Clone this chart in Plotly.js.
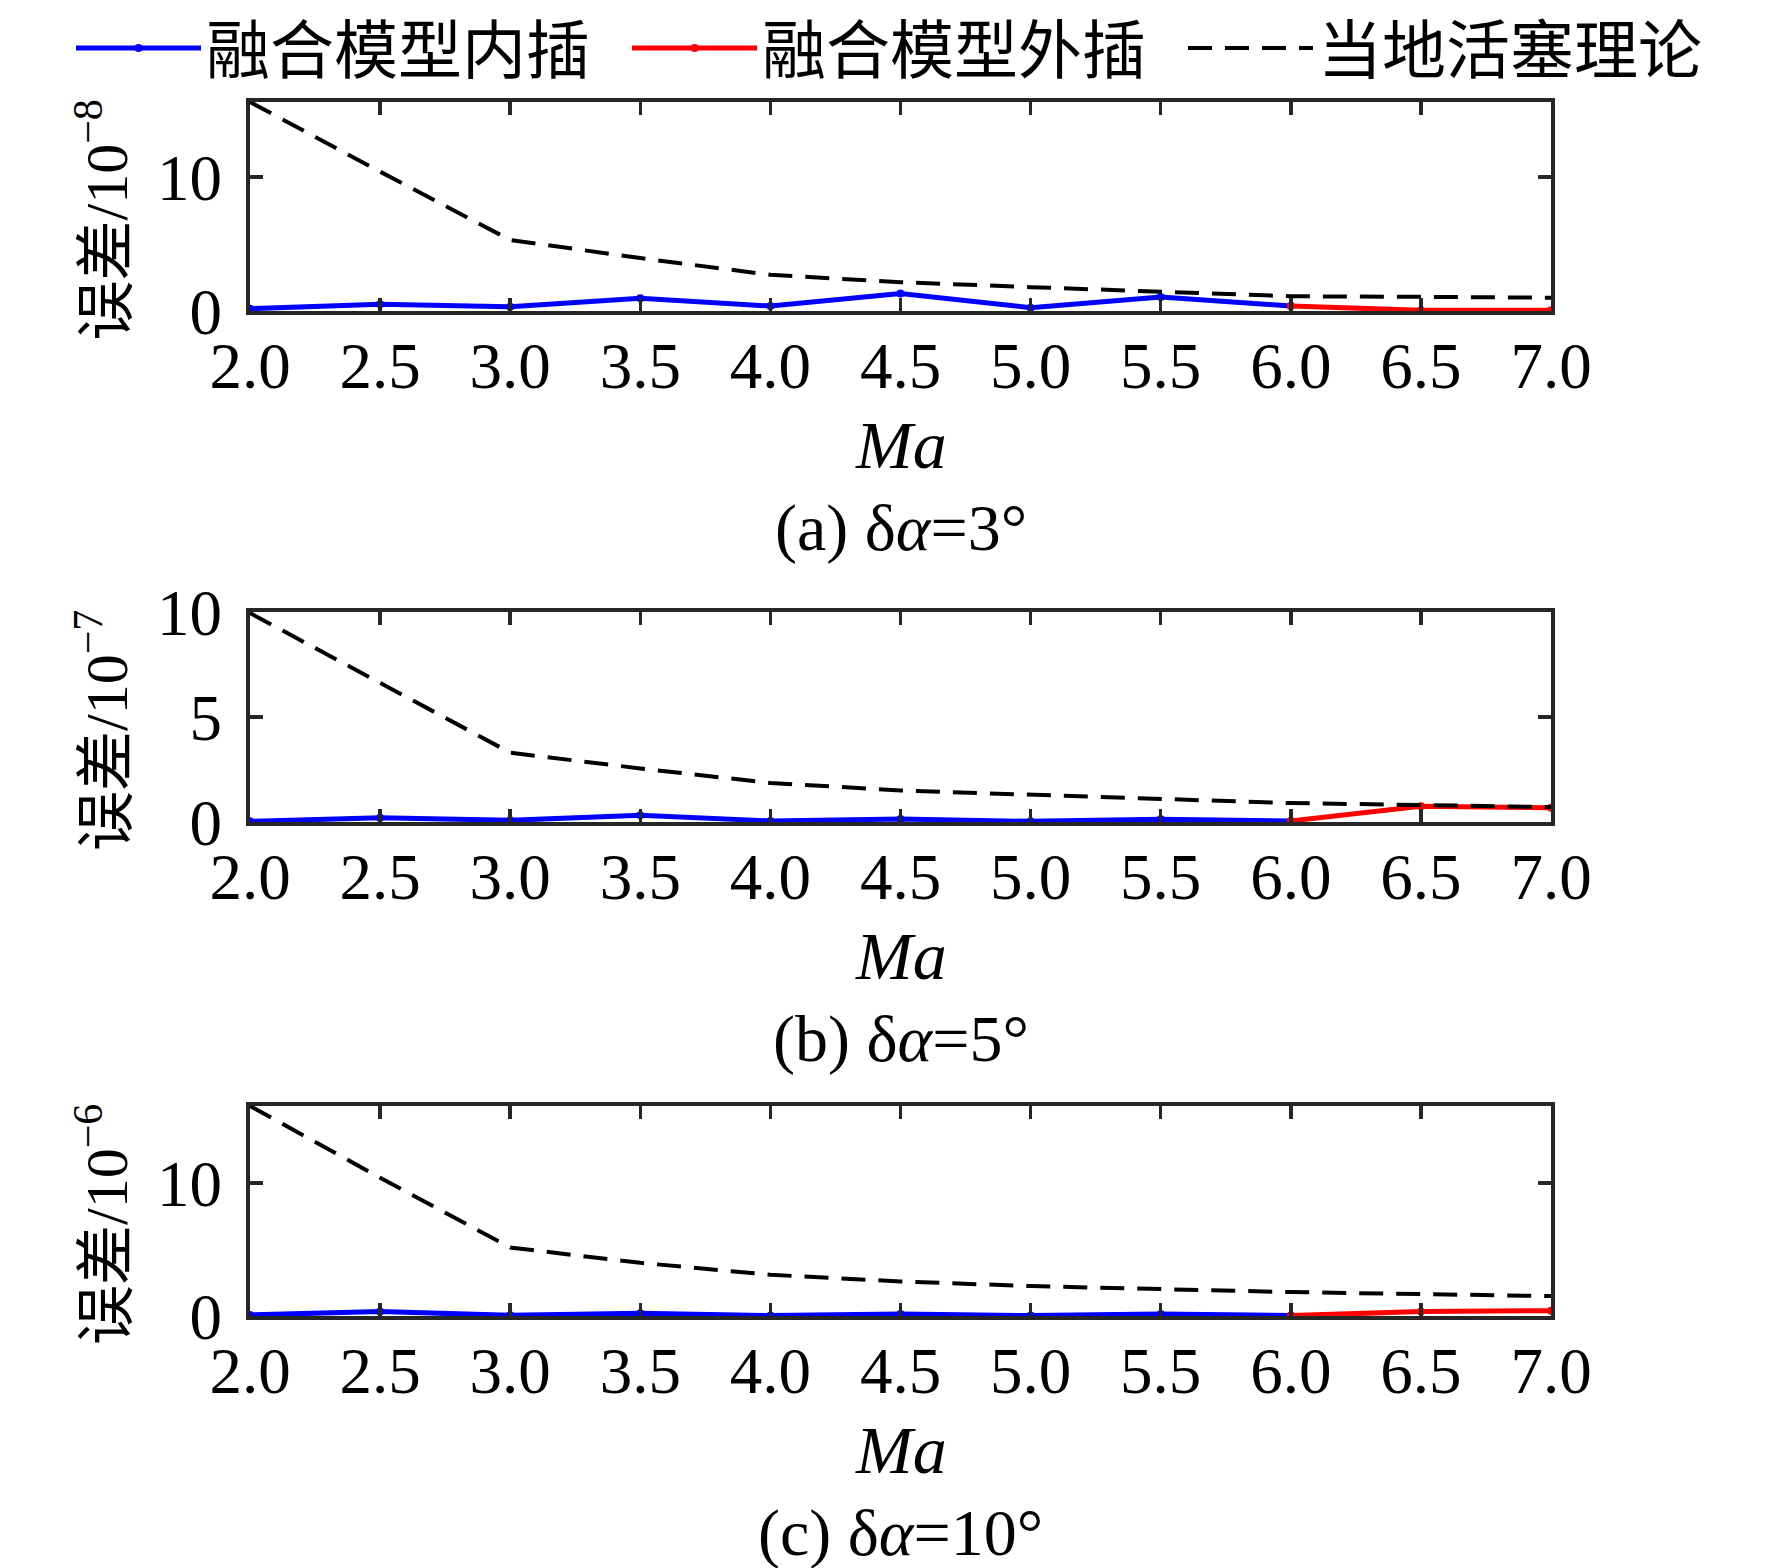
<!DOCTYPE html>
<html>
<head>
<meta charset="utf-8">
<script src="https://cdn.plot.ly/plotly-3.0.1.min.js"></script>
<style>
  html, body { margin: 0; padding: 0; background: #fff; }
  #chart { width: 1772px; height: 1568px; }
</style>
</head>
<body>
<div id="chart"></div>
<script>
// Ma values on the x axis
const ma = [2.0, 2.5, 3.0, 3.5, 4.0, 4.5, 5.0, 5.5, 6.0, 6.5, 7.0];
const maInterp = ma.slice(0, 9);
const maExtrap = ma.slice(8);

const seriesNames = ['融合模型内插', '融合模型外插', '当地活塞理论'];

// (a) δα=3°, unit 1e-8
const aInterp = [0.17, 0.5, 0.32, 0.96, 0.37, 1.3, 0.25, 1.04, 0.37];
const aExtrap = [0.37, 0.05, 0.05];
const aPiston = [15.6, 10.4, 5.3, 3.95, 2.7, 2.15, 1.78, 1.43, 1.1, 1.06, 0.99];

// (b) δα=5°, unit 1e-7
const bInterp = [0.03, 0.2, 0.08, 0.32, 0.05, 0.14, 0.03, 0.13, 0.05];
const bExtrap = [0.05, 0.75, 0.68];
const bPiston = [9.95, 6.6, 3.3, 2.55, 1.86, 1.5, 1.3, 1.1, 0.9, 0.81, 0.71];

// (c) δα=10°, unit 1e-6
const cInterp = [0.08, 0.33, 0.05, 0.2, 0.03, 0.15, 0.03, 0.15, 0.03];
const cExtrap = [0.03, 0.33, 0.4];
const cPiston = [15.8, 10.4, 5.15, 4.0, 3.1, 2.6, 2.25, 2.0, 1.8, 1.65, 1.5];

const yTitles = ['误差/10<sup>−8</sup>', '误差/10<sup>−7</sup>', '误差/10<sup>−6</sup>'];
const captions = ['(a) δ<i>α</i>=3°', '(b) δ<i>α</i>=5°', '(c) δ<i>α</i>=10°'];
const yRanges = [[0, 15.6], [0, 10], [0, 15.8]];
const yTicks = [[0, 10], [0, 5, 10], [0, 10]];

const W = 1772, H = 1568;
const serif = 'Liberation Serif, Times New Roman, Noto Sans CJK SC, serif';
const axisColor = '#262626';

// panel placement in pixels (top, bottom)
const panels = [[102, 311], [612, 822], [1106, 1316]];
const xLeft = 250, xRight = 1551;

function makeTraces(idx, interp, extrap, piston) {
    let suffix = idx === 0 ? '' : String(idx + 1);
    let show = idx === 0;
    return [
        {
            x: maInterp, y: interp, name: seriesNames[0],
            xaxis: 'x' + suffix, yaxis: 'y' + suffix,
            mode: 'lines+markers', type: 'scatter',
            line: { color: '#0000ff', width: 5 },
            marker: { color: '#0000ff', size: 8 },
            showlegend: show, legendgroup: 'interp', cliponaxis: false
        },
        {
            x: maExtrap, y: extrap, name: seriesNames[1],
            xaxis: 'x' + suffix, yaxis: 'y' + suffix,
            mode: 'lines+markers', type: 'scatter',
            line: { color: '#ff0000', width: 5 },
            marker: { color: '#ff0000', size: 8 },
            showlegend: show, legendgroup: 'extrap', cliponaxis: false
        },
        {
            x: ma, y: piston, name: seriesNames[2],
            xaxis: 'x' + suffix, yaxis: 'y' + suffix,
            mode: 'lines', type: 'scatter',
            line: { color: '#000000', width: 4, dash: '24px,13px' },
            showlegend: show, legendgroup: 'piston', cliponaxis: false
        }
    ];
}

let traces = [].concat(
    makeTraces(0, aInterp, aExtrap, aPiston),
    makeTraces(1, bInterp, bExtrap, bPiston),
    makeTraces(2, cInterp, cExtrap, cPiston)
);

let layout = {
    width: W, height: H,
    margin: { l: 0, r: 0, t: 0, b: 0, autoexpand: false },
    paper_bgcolor: '#fff', plot_bgcolor: '#fff',
    font: { family: serif, size: 64, color: '#000' },
    showlegend: true,
    legend: {
        orientation: 'h',
        x: 71 / W, xanchor: 'left',
        y: 1, yanchor: 'top',
        itemwidth: 125,
        entrywidth: 416,
        font: { family: 'Noto Sans CJK SC, sans-serif', size: 64, color: '#000' },
        bgcolor: 'rgba(0,0,0,0)'
    },
    annotations: []
};

panels.forEach(([top, bottom], i) => {
    let suffix = i === 0 ? '' : String(i + 1);
    layout['xaxis' + suffix] = {
        domain: [xLeft / W, xRight / W],
        anchor: 'y' + suffix,
        range: [2, 7],
        tick0: 2, dtick: 0.5, tickformat: '.1f',
        ticks: 'inside', ticklen: 13, tickwidth: 3.5, tickcolor: axisColor,
        showline: true, linecolor: axisColor, linewidth: 4, mirror: 'ticks',
        showgrid: false, zeroline: false,
        ticklabelstandoff: -5,
        tickfont: { family: serif, size: 65, color: '#000' }
    };
    layout['yaxis' + suffix] = {
        domain: [1 - bottom / H, 1 - top / H],
        anchor: 'x' + suffix,
        range: yRanges[i],
        tickvals: yTicks[i],
        ticks: 'inside', ticklen: 13, tickwidth: 3.5, tickcolor: axisColor,
        showline: true, linecolor: axisColor, linewidth: 4, mirror: 'ticks',
        showgrid: false, zeroline: false,
        ticklabelstandoff: 11,
        tickfont: { family: serif, size: 65, color: '#000' }
    };
    layout.annotations.push(
        {
            text: yTitles[i], textangle: -90,
            xref: 'x' + suffix + ' domain', yref: 'y' + suffix + ' domain',
            x: 0, y: 0.5, xshift: -148, yshift: -14,
            xanchor: 'center', yanchor: 'middle', showarrow: false,
            font: { family: 'Liberation Serif, Noto Sans CJK SC, serif', size: 60, color: '#000' }
        },
        {
            text: '<i>Ma</i>',
            xref: 'x' + suffix + ' domain', yref: 'y' + suffix + ' domain',
            x: 0.5, y: 0, yshift: -134,
            xanchor: 'center', yanchor: 'middle', showarrow: false,
            font: { family: serif, size: 68, color: '#000' }
        },
        {
            text: captions[i],
            xref: 'x' + suffix + ' domain', yref: 'y' + suffix + ' domain',
            x: 0.5, y: 0, yshift: -217,
            xanchor: 'center', yanchor: 'middle', showarrow: false,
            font: { family: serif, size: 66, color: '#000' }
        }
    );
});

Plotly.newPlot('chart', traces, layout, { staticPlot: true, displayModeBar: false });
</script>
</body>
</html>
